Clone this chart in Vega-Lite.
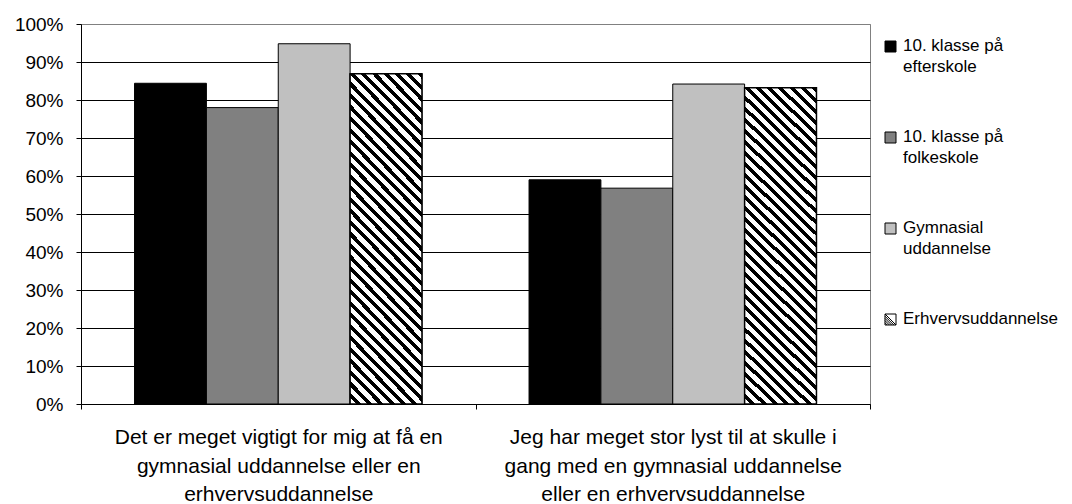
{
  "$schema": "https://vega.github.io/schema/vega-lite/v6.json",
  "width": 789,
  "height": 380,
  "autosize": "none",
  "padding": {"left": 81, "top": 24, "right": 202, "bottom": 100},
  "background": "white",
  "config": {
    "font": "Liberation Sans",
    "view": {"stroke": "#808080", "strokeWidth": 1}
  },
  "data": {
    "values": [
      {"Udsagn": "Det er meget vigtigt for mig at få en gymnasial uddannelse eller en erhvervsuddannelse", "Gruppe": "10. klasse på efterskole", "Andel": 0.844},
      {"Udsagn": "Det er meget vigtigt for mig at få en gymnasial uddannelse eller en erhvervsuddannelse", "Gruppe": "10. klasse på folkeskole", "Andel": 0.78},
      {"Udsagn": "Det er meget vigtigt for mig at få en gymnasial uddannelse eller en erhvervsuddannelse", "Gruppe": "Gymnasial uddannelse", "Andel": 0.948},
      {"Udsagn": "Det er meget vigtigt for mig at få en gymnasial uddannelse eller en erhvervsuddannelse", "Gruppe": "Erhvervsuddannelse", "Andel": 0.869},
      {"Udsagn": "Jeg har meget stor lyst til at skulle i gang med en gymnasial uddannelse eller en erhvervsuddannelse", "Gruppe": "10. klasse på efterskole", "Andel": 0.590},
      {"Udsagn": "Jeg har meget stor lyst til at skulle i gang med en gymnasial uddannelse eller en erhvervsuddannelse", "Gruppe": "10. klasse på folkeskole", "Andel": 0.568},
      {"Udsagn": "Jeg har meget stor lyst til at skulle i gang med en gymnasial uddannelse eller en erhvervsuddannelse", "Gruppe": "Gymnasial uddannelse", "Andel": 0.842},
      {"Udsagn": "Jeg har meget stor lyst til at skulle i gang med en gymnasial uddannelse eller en erhvervsuddannelse", "Gruppe": "Erhvervsuddannelse", "Andel": 0.832}
    ]
  },
  "encoding": {
    "x": {
      "field": "Udsagn",
      "type": "nominal",
      "sort": null,
      "title": null,
      "scale": {"paddingInner": 0, "paddingOuter": 0},
      "axis": {
        "labelAngle": 0,
        "labelFontSize": 21,
        "labelLineHeight": 28.5,
        "labelBaseline": "top",
        "labelPadding": 17.5,
        "labelColor": "black",
        "labelLimit": 0,
        "labelExpr": "indexof(datum.label, 'Det') === 0 ? ['Det er meget vigtigt for mig at få en', 'gymnasial uddannelse eller en', 'erhvervsuddannelse'] : indexof(datum.label, 'Jeg') === 0 ? ['Jeg har meget stor lyst til at skulle i', 'gang med en gymnasial uddannelse', 'eller en erhvervsuddannelse'] : ''",
        "tickBand": "extent",
        "tickColor": "black",
        "tickSize": 5,
        "domainColor": "black",
        "grid": false
      }
    },
    "xOffset": {
      "field": "Gruppe",
      "type": "nominal",
      "sort": ["10. klasse på efterskole", "10. klasse på folkeskole", "Gymnasial uddannelse", "Erhvervsuddannelse"],
      "scale": {"paddingInner": 0, "paddingOuter": 0.745}
    },
    "y": {
      "field": "Andel",
      "type": "quantitative",
      "title": null,
      "scale": {"domain": [0, 1], "nice": false},
      "axis": {
        "values": [0, 0.1, 0.2, 0.3, 0.4, 0.5, 0.6, 0.7, 0.8, 0.9, 1],
        "format": ".0%",
        "labelFontSize": 19,
        "labelColor": "black",
        "labelPadding": 13,
        "tickColor": "black",
        "tickSize": 5,
        "domainColor": "black",
        "grid": true,
        "gridColor": {"condition": {"test": "datum.value >= 1", "value": "#808080"}, "value": "black"},
        "gridOpacity": 1
      }
    }
  },
  "layer": [
    {
      "mark": {"type": "bar", "stroke": "black", "strokeWidth": 1},
      "encoding": {
        "color": {
          "field": "Gruppe",
          "type": "nominal",
          "scale": {
            "domain": ["10. klasse på efterskole", "10. klasse på folkeskole", "Gymnasial uddannelse", "Erhvervsuddannelse"],
            "range": ["#000000", "#808080", "#c0c0c0", "#ffffff"]
          },
          "legend": {
            "title": null,
            "orient": "none",
            "legendX": 801,
            "legendY": 14,
            "padding": 0,
            "symbolType": "square",
            "symbolSize": 121,
            "symbolStrokeColor": "black",
            "symbolStrokeWidth": 1,
            "symbolOpacity": 1,
            "labelFontSize": 17,
            "labelColor": "black",
            "labelOffset": 4,
            "labelLimit": 0,
            "labelBaseline": "top",
            "rowPadding": 52,
            "labelExpr": "datum.label === '10. klasse på efterskole' ? ['10. klasse på', 'efterskole'] : datum.label === '10. klasse på folkeskole' ? ['10. klasse på', 'folkeskole'] : datum.label === 'Gymnasial uddannelse' ? ['Gymnasial', 'uddannelse'] : datum.label",
            "encode": {
              "labels": {
                "update": {
                  "lineHeight": {"value": 21.5},
                  "dy": {"value": -9}
                }
              },
              "symbols": {
                "update": {
                  "stroke": {"value": "black"},
                  "strokeWidth": {"value": 1},
                  "shape": [
                    {
                      "test": "datum.value === 'Erhvervsuddannelse'",
                      "value": "M-1,-1H1V1H-1Z M-1,-1L1,1 M-1,-0.6L0.6,1 M-1,-0.2L0.2,1 M-1,0.2L-0.2,1 M-1,0.6L-0.6,1"
                    },
                    {"value": "square"}
                  ]
                }
              }
            }
          }
        }
      }
    },
    {
      "transform": [{"filter": "datum.Gruppe === 'Erhvervsuddannelse'"}],
      "mark": {
        "type": "bar",
        "stroke": "black",
        "strokeWidth": 1.5,
        "fill": {
          "gradient": "linear", "x1": 0, "y1": 1, "x2": 0.2597, "y2": -0.165,
          "stops": [
            {"offset": 0, "color": "white"}, {"offset": 0.01571, "color": "white"}, {"offset": 0.01571, "color": "black"}, {"offset": 0.02857, "color": "black"},
            {"offset": 0.02857, "color": "white"}, {"offset": 0.04429, "color": "white"}, {"offset": 0.04429, "color": "black"}, {"offset": 0.05714, "color": "black"},
            {"offset": 0.05714, "color": "white"}, {"offset": 0.07286, "color": "white"}, {"offset": 0.07286, "color": "black"}, {"offset": 0.08571, "color": "black"},
            {"offset": 0.08571, "color": "white"}, {"offset": 0.10143, "color": "white"}, {"offset": 0.10143, "color": "black"}, {"offset": 0.11429, "color": "black"},
            {"offset": 0.11429, "color": "white"}, {"offset": 0.13, "color": "white"}, {"offset": 0.13, "color": "black"}, {"offset": 0.14286, "color": "black"},
            {"offset": 0.14286, "color": "white"}, {"offset": 0.15857, "color": "white"}, {"offset": 0.15857, "color": "black"}, {"offset": 0.17143, "color": "black"},
            {"offset": 0.17143, "color": "white"}, {"offset": 0.18714, "color": "white"}, {"offset": 0.18714, "color": "black"}, {"offset": 0.2, "color": "black"},
            {"offset": 0.2, "color": "white"}, {"offset": 0.21571, "color": "white"}, {"offset": 0.21571, "color": "black"}, {"offset": 0.22857, "color": "black"},
            {"offset": 0.22857, "color": "white"}, {"offset": 0.24429, "color": "white"}, {"offset": 0.24429, "color": "black"}, {"offset": 0.25714, "color": "black"},
            {"offset": 0.25714, "color": "white"}, {"offset": 0.27286, "color": "white"}, {"offset": 0.27286, "color": "black"}, {"offset": 0.28571, "color": "black"},
            {"offset": 0.28571, "color": "white"}, {"offset": 0.30143, "color": "white"}, {"offset": 0.30143, "color": "black"}, {"offset": 0.31429, "color": "black"},
            {"offset": 0.31429, "color": "white"}, {"offset": 0.33, "color": "white"}, {"offset": 0.33, "color": "black"}, {"offset": 0.34286, "color": "black"},
            {"offset": 0.34286, "color": "white"}, {"offset": 0.35857, "color": "white"}, {"offset": 0.35857, "color": "black"}, {"offset": 0.37143, "color": "black"},
            {"offset": 0.37143, "color": "white"}, {"offset": 0.38714, "color": "white"}, {"offset": 0.38714, "color": "black"}, {"offset": 0.4, "color": "black"},
            {"offset": 0.4, "color": "white"}, {"offset": 0.41571, "color": "white"}, {"offset": 0.41571, "color": "black"}, {"offset": 0.42857, "color": "black"},
            {"offset": 0.42857, "color": "white"}, {"offset": 0.44429, "color": "white"}, {"offset": 0.44429, "color": "black"}, {"offset": 0.45714, "color": "black"},
            {"offset": 0.45714, "color": "white"}, {"offset": 0.47286, "color": "white"}, {"offset": 0.47286, "color": "black"}, {"offset": 0.48571, "color": "black"},
            {"offset": 0.48571, "color": "white"}, {"offset": 0.50143, "color": "white"}, {"offset": 0.50143, "color": "black"}, {"offset": 0.51429, "color": "black"},
            {"offset": 0.51429, "color": "white"}, {"offset": 0.53, "color": "white"}, {"offset": 0.53, "color": "black"}, {"offset": 0.54286, "color": "black"},
            {"offset": 0.54286, "color": "white"}, {"offset": 0.55857, "color": "white"}, {"offset": 0.55857, "color": "black"}, {"offset": 0.57143, "color": "black"},
            {"offset": 0.57143, "color": "white"}, {"offset": 0.58714, "color": "white"}, {"offset": 0.58714, "color": "black"}, {"offset": 0.6, "color": "black"},
            {"offset": 0.6, "color": "white"}, {"offset": 0.61571, "color": "white"}, {"offset": 0.61571, "color": "black"}, {"offset": 0.62857, "color": "black"},
            {"offset": 0.62857, "color": "white"}, {"offset": 0.64429, "color": "white"}, {"offset": 0.64429, "color": "black"}, {"offset": 0.65714, "color": "black"},
            {"offset": 0.65714, "color": "white"}, {"offset": 0.67286, "color": "white"}, {"offset": 0.67286, "color": "black"}, {"offset": 0.68571, "color": "black"},
            {"offset": 0.68571, "color": "white"}, {"offset": 0.70143, "color": "white"}, {"offset": 0.70143, "color": "black"}, {"offset": 0.71429, "color": "black"},
            {"offset": 0.71429, "color": "white"}, {"offset": 0.73, "color": "white"}, {"offset": 0.73, "color": "black"}, {"offset": 0.74286, "color": "black"},
            {"offset": 0.74286, "color": "white"}, {"offset": 0.75857, "color": "white"}, {"offset": 0.75857, "color": "black"}, {"offset": 0.77143, "color": "black"},
            {"offset": 0.77143, "color": "white"}, {"offset": 0.78714, "color": "white"}, {"offset": 0.78714, "color": "black"}, {"offset": 0.8, "color": "black"},
            {"offset": 0.8, "color": "white"}, {"offset": 0.81571, "color": "white"}, {"offset": 0.81571, "color": "black"}, {"offset": 0.82857, "color": "black"},
            {"offset": 0.82857, "color": "white"}, {"offset": 0.84429, "color": "white"}, {"offset": 0.84429, "color": "black"}, {"offset": 0.85714, "color": "black"},
            {"offset": 0.85714, "color": "white"}, {"offset": 0.87286, "color": "white"}, {"offset": 0.87286, "color": "black"}, {"offset": 0.88571, "color": "black"},
            {"offset": 0.88571, "color": "white"}, {"offset": 0.90143, "color": "white"}, {"offset": 0.90143, "color": "black"}, {"offset": 0.91429, "color": "black"},
            {"offset": 0.91429, "color": "white"}, {"offset": 0.93, "color": "white"}, {"offset": 0.93, "color": "black"}, {"offset": 0.94286, "color": "black"},
            {"offset": 0.94286, "color": "white"}, {"offset": 0.95857, "color": "white"}, {"offset": 0.95857, "color": "black"}, {"offset": 0.97143, "color": "black"},
            {"offset": 0.97143, "color": "white"}, {"offset": 0.98714, "color": "white"}, {"offset": 0.98714, "color": "black"}, {"offset": 1, "color": "black"}
          ]
        }
      }
    }
  ]
}
